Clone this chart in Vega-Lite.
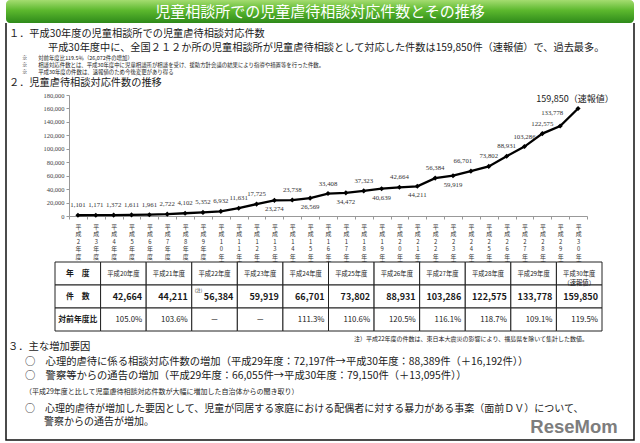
{
"$schema": "https://vega.github.io/schema/vega-lite/v6.json",
"padding": {"left": 5, "right": 5, "top": 0, "bottom": 1},
"background": "white",
"bounds": "flush",
"spacing": 0,
"config": {"view": {"stroke": null}, "font": "Noto Sans CJK JP", "text": {"font": "Noto Sans CJK JP", "color": "#1a1a1a"}},
"vconcat": [
 {
  "width": 628, "height": 23,
  "data": {"values": [{"t": "児童相談所での児童虐待相談対応件数とその推移"}]},
  "layer": [
   {"mark": {"type": "rect", "cornerRadius": 4, "fill": {"gradient": "linear", "x1": 0, "y1": 0, "x2": 0, "y2": 1, "stops": [{"offset": 0, "color": "#a4dc70"}, {"offset": 0.45, "color": "#5cb82e"}, {"offset": 1, "color": "#2e8a1a"}]}}, "encoding": {}},
   {"mark": {"type": "text", "fontSize": 15, "color": "white", "dy": 0.5}, "encoding": {"text": {"field": "t"}}}
  ]
 },
 {
  "width": 628, "height": 32,
  "view": {"stroke": "#111", "strokeWidth": 1.5, "strokeDash": [0, 628, 32, 628, 32]},
  "data": {"values": [
    {"n": "a", "ind": "head", "t": "１．平成30年度の児童相談所での児童虐待相談対応件数"},
    {"n": "b", "ind": "body", "t": "平成30年度中に、全国２１２か所の児童相談所が児童虐待相談として対応した件数は159,850件（速報値）で、過去最多。"}
  ]},
  "mark": {"type": "text", "align": "left", "fontSize": 10.2},
  "encoding": {
    "x": {"field": "ind", "type": "nominal", "axis": null, "scale": {"type": "point", "domain": ["head", "body"], "range": [3, 42], "padding": 0}},
    "y": {"field": "n", "type": "ordinal", "axis": null, "scale": {"type": "band", "domain": ["a", "b"], "paddingInner": 0, "paddingOuter": 0.1594, "align": 1}},
    "text": {"field": "t"}
  }
 },
 {
  "width": 628, "height": 20,
  "view": {"stroke": "#111", "strokeWidth": 1.5, "strokeDash": [0, 628, 20, 628, 20]},
  "data": {"values": [
    {"n": "a", "ind": "note", "t": "※　　対前年度比119.5％（26,072件の増加）"},
    {"n": "b", "ind": "note", "t": "※　　相談対応件数とは、平成30年度中に児童相談所が相談を受け、援助方針会議の結果により指導や措置等を行った件数。"},
    {"n": "c", "ind": "note", "t": "※　　平成30年度の件数は、速報値のため今後変更があり得る"}
  ]},
  "mark": {"type": "text", "align": "left", "fontSize": 5.4},
  "encoding": {
    "x": {"field": "ind", "type": "nominal", "axis": null, "scale": {"type": "point", "domain": ["note"], "range": [16, 16], "padding": 0}},
    "y": {"field": "n", "type": "ordinal", "axis": null, "scale": {"type": "band", "domain": ["a", "b", "c"], "paddingInner": 0, "paddingOuter": 0}},
    "text": {"field": "t"}
  }
 },
 {
  "width": 628, "height": 20,
  "view": {"stroke": "#111", "strokeWidth": 1.5, "strokeDash": [0, 628, 20, 628, 20]},
  "data": {"values": [{"ind": "head", "t": "２．児童虐待相談対応件数の推移"}]},
  "mark": {"type": "text", "align": "left", "fontSize": 10.2, "dy": -2},
  "encoding": {
    "x": {"field": "ind", "type": "nominal", "axis": null, "scale": {"type": "point", "domain": ["head"], "range": [3, 3], "padding": 0}},
    "text": {"field": "t"}
  }
 },
 {
  "width": 628, "height": 121,
  "view": {"stroke": "#111", "strokeWidth": 1.5, "strokeDash": [0, 628, 121, 628, 121]},
  "data": {"values": [
    {"year": "平成2年度", "value": 1101}, {"year": "平成3年度", "value": 1171}, {"year": "平成4年度", "value": 1372},
    {"year": "平成5年度", "value": 1611}, {"year": "平成6年度", "value": 1961}, {"year": "平成7年度", "value": 2722},
    {"year": "平成8年度", "value": 4102}, {"year": "平成9年度", "value": 5352}, {"year": "平成10年度", "value": 6932},
    {"year": "平成11年度", "value": 11631}, {"year": "平成12年度", "value": 17725}, {"year": "平成13年度", "value": 23274},
    {"year": "平成14年度", "value": 23738}, {"year": "平成15年度", "value": 26569}, {"year": "平成16年度", "value": 33408},
    {"year": "平成17年度", "value": 34472}, {"year": "平成18年度", "value": 37323}, {"year": "平成19年度", "value": 40639},
    {"year": "平成20年度", "value": 42664}, {"year": "平成21年度", "value": 44211}, {"year": "平成22年度", "value": 56384},
    {"year": "平成23年度", "value": 59919}, {"year": "平成24年度", "value": 66701}, {"year": "平成25年度", "value": 73802},
    {"year": "平成26年度", "value": 88931}, {"year": "平成27年度", "value": 103286}, {"year": "平成28年度", "value": 122575},
    {"year": "平成29年度", "value": 133778}, {"year": "平成30年度", "value": 159850}
  ]},
  "encoding": {
    "x": {"field": "year", "type": "ordinal", "sort": null,
      "scale": {"type": "band", "range": [63, 581], "paddingInner": 0, "paddingOuter": 0},
      "axis": {"title": null, "labelExpr": "split(datum.label, '')", "labelAngle": 0, "labelFontSize": 5.9, "labelLineHeight": 7.5, "labelPadding": 4, "tickBand": "extent", "tickSize": 3, "domainColor": "#999", "tickColor": "#999", "labelColor": "#333", "labelFont": "Noto Sans CJK JP", "labelOverlap": false}},
    "y": {"field": "value", "type": "quantitative",
      "scale": {"domain": [0, 180000], "nice": false},
      "axis": {"title": null, "values": [0, 20000, 40000, 60000, 80000, 100000, 120000, 140000, 160000, 180000], "format": ",d", "offset": -63, "labelFontSize": 6.5, "labelFont": "Liberation Serif", "tickSize": 3, "domainColor": "#999", "tickColor": "#999", "labelColor": "#444", "grid": false}}
  },
  "layer": [
    {"mark": {"type": "line", "color": "black", "strokeWidth": 2.3}},
    {"mark": {"type": "point", "shape": "diamond", "filled": true, "color": "black", "size": 26, "opacity": 1}},
    {"transform": [{"filter": {"field": "year", "oneOf": ["平成2年度", "平成3年度", "平成4年度", "平成5年度", "平成6年度", "平成7年度", "平成8年度", "平成9年度", "平成10年度", "平成11年度", "平成12年度", "平成14年度", "平成16年度", "平成18年度", "平成20年度", "平成22年度", "平成25年度", "平成26年度", "平成27年度", "平成28年度"]}}],
     "mark": {"type": "text", "dy": -10, "fontSize": 6.8, "font": "Liberation Serif", "color": "#333"},
     "encoding": {"text": {"field": "value", "type": "quantitative", "format": ",d"}}},
    {"transform": [{"filter": {"field": "year", "oneOf": ["平成13年度", "平成15年度", "平成17年度", "平成19年度", "平成21年度", "平成23年度"]}}],
     "mark": {"type": "text", "dy": 9, "fontSize": 6.8, "font": "Liberation Serif", "color": "#333"},
     "encoding": {"text": {"field": "value", "type": "quantitative", "format": ",d"}}},
    {"transform": [{"filter": {"field": "year", "equal": "平成24年度"}}],
     "mark": {"type": "text", "dy": -10, "dx": -8, "fontSize": 6.8, "font": "Liberation Serif", "color": "#333"},
     "encoding": {"text": {"field": "value", "type": "quantitative", "format": ",d"}}},
    {"transform": [{"filter": {"field": "year", "equal": "平成29年度"}}],
     "mark": {"type": "text", "dy": -13, "dx": -8, "fontSize": 6.8, "font": "Liberation Serif", "color": "#333"},
     "encoding": {"text": {"field": "value", "type": "quantitative", "format": ",d"}}},
    {"transform": [{"filter": {"field": "year", "equal": "平成30年度"}}],
     "mark": {"type": "text", "dy": -10, "dx": -3, "fontSize": 9, "color": "#222"},
     "encoding": {"text": {"value": "159,850（速報値）"}}}
  ]
 },
 {
  "width": 628, "height": 115,
  "view": {"stroke": "#111", "strokeWidth": 1.5, "strokeDash": [0, 628, 115, 628, 115]},
  "data": {"values": [
    {"c": "項目", "r": "hdr", "v": "年　度"},
    {"c": "平成20年度", "r": "hdr", "v": "平成20年度"}, {"c": "平成21年度", "r": "hdr", "v": "平成21年度"},
    {"c": "平成22年度", "r": "hdr", "v": "平成22年度"}, {"c": "平成23年度", "r": "hdr", "v": "平成23年度"},
    {"c": "平成24年度", "r": "hdr", "v": "平成24年度"}, {"c": "平成25年度", "r": "hdr", "v": "平成25年度"},
    {"c": "平成26年度", "r": "hdr", "v": "平成26年度"}, {"c": "平成27年度", "r": "hdr", "v": "平成27年度"},
    {"c": "平成28年度", "r": "hdr", "v": "平成28年度"}, {"c": "平成29年度", "r": "hdr", "v": "平成29年度"},
    {"c": "平成30年度", "r": "hdr", "v": "平成30年度\n（速報値）"},
    {"c": "項目", "r": "cnt", "v": "件　数"},
    {"c": "平成20年度", "r": "cnt", "v": "42,664"}, {"c": "平成21年度", "r": "cnt", "v": "44,211"},
    {"c": "平成22年度", "r": "cnt", "v": "56,384", "note": "(注)"}, {"c": "平成23年度", "r": "cnt", "v": "59,919"},
    {"c": "平成24年度", "r": "cnt", "v": "66,701"}, {"c": "平成25年度", "r": "cnt", "v": "73,802"},
    {"c": "平成26年度", "r": "cnt", "v": "88,931"}, {"c": "平成27年度", "r": "cnt", "v": "103,286"},
    {"c": "平成28年度", "r": "cnt", "v": "122,575"}, {"c": "平成29年度", "r": "cnt", "v": "133,778"},
    {"c": "平成30年度", "r": "cnt", "v": "159,850"},
    {"c": "項目", "r": "rat", "v": "対前年度比"},
    {"c": "平成20年度", "r": "rat", "v": "105.0%"}, {"c": "平成21年度", "r": "rat", "v": "103.6%"},
    {"c": "平成22年度", "r": "rat", "v": "－"}, {"c": "平成23年度", "r": "rat", "v": "－"},
    {"c": "平成24年度", "r": "rat", "v": "111.3%"}, {"c": "平成25年度", "r": "rat", "v": "110.6%"},
    {"c": "平成26年度", "r": "rat", "v": "120.5%"}, {"c": "平成27年度", "r": "rat", "v": "116.1%"},
    {"c": "平成28年度", "r": "rat", "v": "118.7%"}, {"c": "平成29年度", "r": "rat", "v": "109.1%"},
    {"c": "平成30年度", "r": "rat", "v": "119.5%"}
  ]},
  "encoding": {
    "x": {"field": "c", "type": "ordinal", "axis": null, "scale": {"type": "band", "domain": ["項目", "平成20年度", "平成21年度", "平成22年度", "平成23年度", "平成24年度", "平成25年度", "平成26年度", "平成27年度", "平成28年度", "平成29年度", "平成30年度"], "paddingInner": 0, "paddingOuter": 0.8885, "align": 0.605}},
    "y": {"field": "r", "type": "ordinal", "axis": null, "scale": {"type": "band", "domain": ["hdr", "cnt", "rat"], "paddingInner": 0, "paddingOuter": 1.474, "align": 1}}
  },
  "layer": [
    {"mark": {"type": "rect", "fill": "white", "stroke": "#222", "strokeWidth": 1}},
    {"transform": [{"filter": "datum.r === 'hdr' && datum.c !== '項目'"}],
     "mark": {"type": "text", "fontSize": 6.3, "lineBreak": "\n", "lineHeight": 9},
     "encoding": {"text": {"field": "v"}}},
    {"transform": [{"filter": {"field": "c", "equal": "項目"}}],
     "mark": {"type": "text", "fontSize": 7.8, "fontWeight": "bold"},
     "encoding": {"text": {"field": "v"}}},
    {"transform": [{"filter": {"field": "v", "equal": "－"}}],
     "mark": {"type": "text", "fontSize": 8},
     "encoding": {"text": {"field": "v"}}},
    {"transform": [{"filter": "datum.r === 'cnt' && datum.c !== '項目'"}],
     "mark": {"type": "text", "align": "right", "dx": -4, "fontSize": 9, "fontWeight": "bold"},
     "encoding": {"x": {"field": "c", "type": "ordinal", "bandPosition": 1}, "text": {"field": "v"}}},
    {"transform": [{"filter": "datum.r === 'rat' && datum.c !== '項目' && datum.v !== '－'"}],
     "mark": {"type": "text", "align": "right", "dx": -4, "fontSize": 7.8},
     "encoding": {"x": {"field": "c", "type": "ordinal", "bandPosition": 1}, "text": {"field": "v"}}},
    {"transform": [{"filter": "datum.note"}],
     "mark": {"type": "text", "align": "left", "baseline": "top", "dx": 3, "dy": 3, "fontSize": 4.5},
     "encoding": {"x": {"field": "c", "type": "ordinal", "bandPosition": 0}, "y": {"field": "r", "type": "ordinal", "bandPosition": 0}, "text": {"field": "note"}}}
  ]
 },
 {
  "width": 628, "height": 9,
  "view": {"stroke": "#111", "strokeWidth": 1.5, "strokeDash": [0, 628, 9, 628, 9]},
  "data": {"values": [{"ind": "right", "t": "注）平成22年度の件数は、東日本大震災の影響により、福島県を除いて集計した数値。"}]},
  "mark": {"type": "text", "align": "right", "fontSize": 6, "dy": 3.5},
  "encoding": {
    "x": {"field": "ind", "type": "nominal", "axis": null, "scale": {"type": "point", "domain": ["right"], "range": [582, 582], "padding": 0}},
    "text": {"field": "t"}
  }
 },
 {
  "width": 628, "height": 43,
  "view": {"stroke": "#111", "strokeWidth": 1.5, "strokeDash": [0, 628, 43, 628, 43]},
  "data": {"values": [
    {"n": "a", "ind": "head", "t": "３．主な増加要因"},
    {"n": "b", "ind": "bul", "t": "○　心理的虐待に係る相談対応件数の増加（平成29年度：72,197件→平成30年度：88,389件（＋16,192件））"},
    {"n": "c", "ind": "bul", "t": "○　警察等からの通告の増加（平成29年度：66,055件→平成30年度：79,150件（＋13,095件））"}
  ]},
  "mark": {"type": "text", "align": "left", "fontSize": 10.3},
  "encoding": {
    "x": {"field": "ind", "type": "nominal", "axis": null, "scale": {"type": "point", "domain": ["head", "bul"], "range": [2, 19], "padding": 0}},
    "y": {"field": "n", "type": "ordinal", "axis": null, "scale": {"type": "band", "domain": ["a", "b", "c"], "paddingInner": 0, "paddingOuter": 0}},
    "text": {"field": "t"}
  }
 },
 {
  "width": 628, "height": 18,
  "view": {"stroke": "#111", "strokeWidth": 1.5, "strokeDash": [0, 628, 18, 628, 18]},
  "data": {"values": [{"ind": "par", "t": "（平成29年度と比して児童虐待相談対応件数が大幅に増加した自治体からの聞き取り）"}]},
  "mark": {"type": "text", "align": "left", "fontSize": 7},
  "encoding": {
    "x": {"field": "ind", "type": "nominal", "axis": null, "scale": {"type": "point", "domain": ["par"], "range": [19, 19], "padding": 0}},
    "text": {"field": "t"}
  }
 },
 {
  "width": 628, "height": 39,
  "view": {"stroke": "#111", "strokeWidth": 1.5, "strokeDash": [0, 628, 706]},
  "resolve": {"scale": {"x": "independent", "y": "independent"}},
  "layer": [
    {
     "data": {"values": [
       {"n": "a", "ind": "bul", "t": "○　心理的虐待が増加した要因として、児童が同居する家庭における配偶者に対する暴力がある事案（面前ＤＶ）について、"},
       {"n": "b", "ind": "cont", "t": "警察からの通告が増加。"}
     ]},
     "mark": {"type": "text", "align": "left", "fontSize": 10},
     "encoding": {
       "x": {"field": "ind", "type": "nominal", "axis": null, "scale": {"type": "point", "domain": ["bul", "cont"], "range": [19, 38], "padding": 0}},
       "y": {"field": "n", "type": "ordinal", "axis": null, "scale": {"type": "band", "domain": ["a", "b"], "paddingInner": 0, "paddingOuter": 0.4444, "align": 0.1}},
       "text": {"field": "t"}
     }
    },
    {
     "data": {"values": [{"ind": "logo", "t": "ReseMom"}]},
     "mark": {"type": "text", "align": "center", "fontSize": 18.5, "fontWeight": "bold", "font": "Liberation Sans", "color": "#7d7d7d", "dy": 6},
     "encoding": {
       "x": {"field": "ind", "type": "nominal", "axis": null, "scale": {"type": "point", "domain": ["logo"], "range": [568, 568], "padding": 0}},
       "text": {"field": "t"}
     }
    }
  ]
 }
]
}
